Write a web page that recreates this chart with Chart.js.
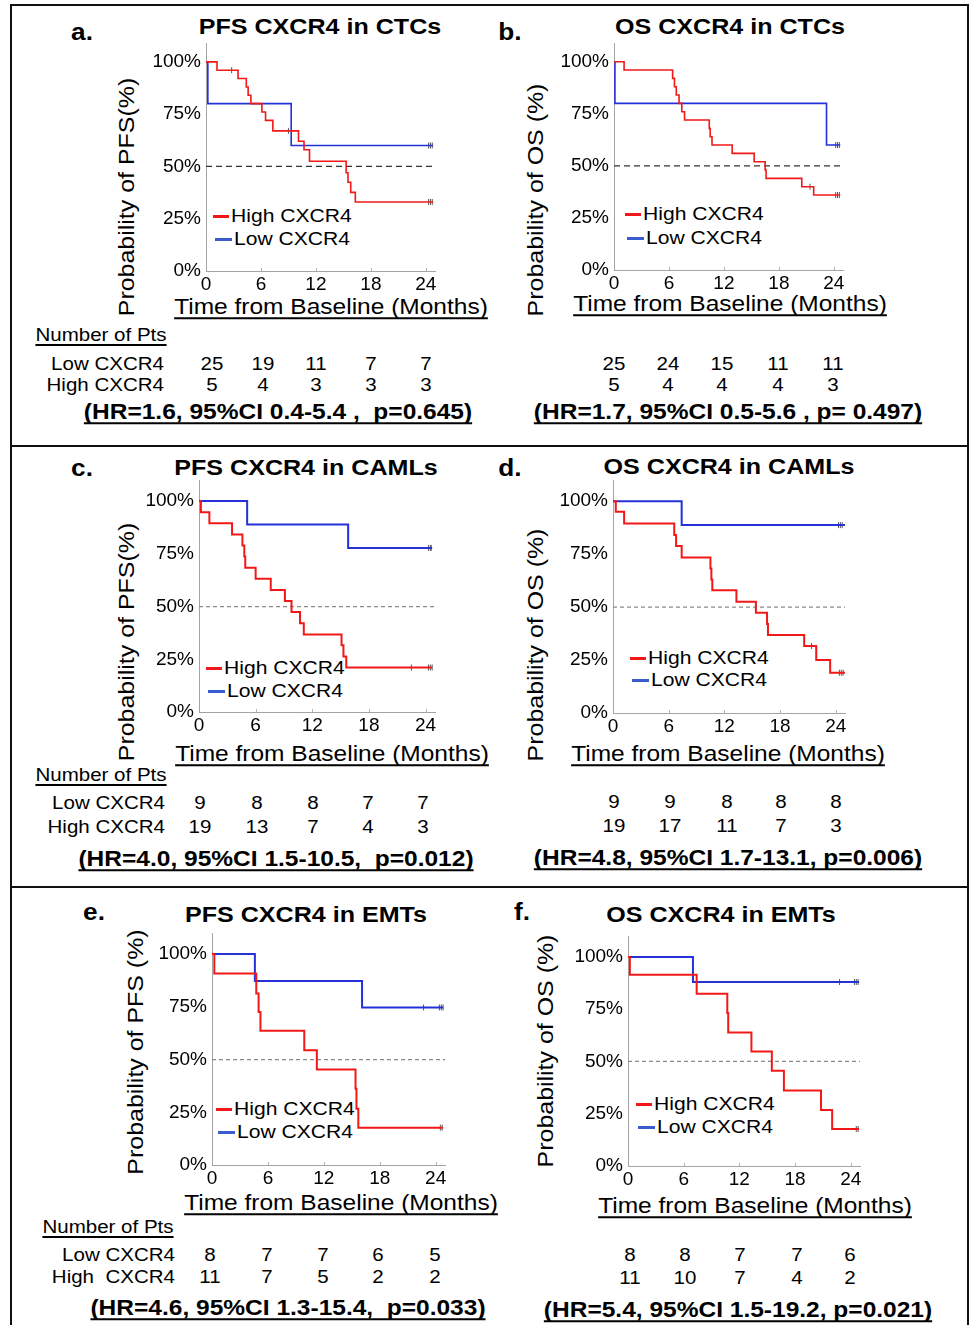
<!DOCTYPE html>
<html>
<head>
<meta charset="utf-8">
<script src="https://cdn.jsdelivr.net/npm/chart.js@4.4.1/dist/chart.umd.min.js"></script>
<style>
  html, body { margin: 0; padding: 0; background: #fff; }
  body { width: 969px; height: 1325px; position: relative; overflow: hidden;
         font-family: "Liberation Sans", Arial, Helvetica, sans-serif; color: #000; }
  .frame { position: absolute; left: 10px; top: 4px; width: 959px; height: 1340px;
           border: 2px solid #111; box-sizing: border-box; }
  .sep { position: absolute; left: 10px; width: 959px; height: 2px; background: #111; }
  canvas { position: absolute; }
  .t { position: absolute; white-space: pre; line-height: 1; }
  .c { transform: translate(-50%, -50%) scaleX(1.14); }
  .r { transform-origin: right center; transform: translate(-100%, -50%) scaleX(1.14); }
  .l { transform-origin: left center; transform: translate(0, -50%) scaleX(1.14); }
  .rot { transform: translate(-50%, -50%) rotate(-90deg) scaleX(1.16); }
  .title { font-size: 22px; font-weight: bold; }
  .letter { font-size: 23px; font-weight: bold; }
  .axlab { font-size: 21.5px; }
  .ul { text-decoration: underline; text-decoration-thickness: 1.5px; text-underline-offset: 3px;
        text-decoration-skip-ink: none; }
  .tab { font-size: 18px; }
  .hr { font-size: 21.5px; font-weight: bold; text-decoration: underline;
        text-decoration-thickness: 2px; text-underline-offset: 3px; text-decoration-skip-ink: none; }
  .leg { font-size: 18.5px; }
  .legline { position: absolute; height: 3px; }
</style>
</head>
<body>
<div class="frame"></div>
<div class="sep" style="top:445px"></div>
<div class="sep" style="top:886px"></div>

<script>
// ---- shared ticks / labels
const xTicks = [0, 6, 12, 18, 24];
const yTicks = [0, 25, 50, 75, 100];
const seriesNames = ['High CXCR4', 'Low CXCR4'];
const rowNames = ['Low CXCR4', 'High CXCR4'];
const median = [50, 50];

// ---- a. PFS CXCR4 in CTCs
const aHighT = [0, 1.2, 3.5, 4.4, 4.6, 4.9, 6.1, 6.5, 7.3, 10.1, 10.7, 11.3, 15.3, 15.5, 15.8, 16.3, 24.8];
const aHighS = [100, 96, 92, 88, 84, 80, 76, 72, 67, 62, 58, 52.5, 47, 42.4, 37.6, 33, 33];
const aHighCens = [2.8, 9.0, 24.3, 24.5, 24.7];
const aLowT = [0, 0.2, 9.3, 24.8];
const aLowS = [100, 80, 60, 60];
const aLowCens = [24.3, 24.5, 24.7];
const aRiskLow = [25, 19, 11, 7, 7];
const aRiskHigh = [5, 4, 3, 3, 3];

// ---- b. OS CXCR4 in CTCs
const bHighT = [0, 1.1, 6.4, 6.6, 6.8, 7.1, 7.4, 7.7, 10.4, 10.5, 10.7, 12.9, 15.3, 16.5, 16.6, 20.5, 21.8, 24.7];
const bHighS = [100, 96, 92, 88, 84, 80, 76, 72, 68, 64, 60, 56, 52, 48, 44, 40, 36, 36];
const bHighCens = [21.4, 24.2, 24.4, 24.6];
const bLowT = [0, 0.1, 23.2, 24.7];
const bLowS = [100, 80, 60, 60];
const bLowCens = [24.2, 24.4, 24.6];
const bRiskLow = [25, 24, 15, 11, 11];
const bRiskHigh = [5, 4, 4, 4, 3];

// ---- c. PFS CXCR4 in CAMLs
const cHighT = [0, 0.2, 1.1, 3.5, 4.6, 4.8, 4.9, 6.0, 7.6, 9.1, 9.8, 10.7, 11.1, 15.1, 15.3, 15.6, 24.7];
const cHighS = [100, 94.7, 89.5, 84.2, 78.9, 73.7, 68.4, 63.2, 57.9, 52.6, 47.4, 42.1, 36.8, 31.6, 26.3, 21.1, 21.1];
const cHighCens = [22.5, 24.3, 24.5, 24.7];
const cLowT = [0, 5.1, 15.8, 24.7];
const cLowS = [100, 88.9, 77.8, 77.8];
const cLowCens = [24.3, 24.5, 24.6];
const cRiskLow = [9, 8, 8, 7, 7];
const cRiskHigh = [19, 13, 7, 4, 3];

// ---- d. OS CXCR4 in CAMLs
const dHighT = [0, 0.3, 1.2, 6.6, 6.8, 7.4, 10.5, 10.6, 10.7, 13.3, 15.4, 16.6, 16.7, 20.6, 21.9, 23.4, 25];
const dHighS = [100, 95, 89.5, 84, 78.8, 73.4, 68.2, 63, 58, 52.5, 47.3, 42, 36.8, 31.6, 25, 19, 19];
const dHighCens = [21.4, 24.4, 24.6, 24.8];
const dLowT = [0, 7.4, 25];
const dLowS = [100, 88.7, 88.7];
const dLowCens = [24.3, 24.5, 24.7];
const dRiskLow = [9, 9, 8, 8, 8];
const dRiskHigh = [19, 17, 11, 7, 3];

// ---- e. PFS CXCR4 in EMTs
const eHighT = [0, 0.25, 4.75, 5.0, 5.2, 9.9, 11.25, 15.4, 15.5, 15.7, 24.8];
const eHighS = [100, 90.8, 81.3, 72.6, 63.6, 54.4, 45.3, 36.2, 26.7, 17.7, 17.7];
const eHighCens = [24.5, 24.7];
const eLowT = [0, 4.6, 16.1, 24.8];
const eLowS = [100, 87.3, 74.7, 74.7];
const eLowCens = [22.7, 24.4, 24.6, 24.8];
const eRiskLow = [8, 7, 7, 6, 5];
const eRiskHigh = [11, 7, 5, 2, 2];

// ---- f. OS CXCR4 in EMTs
const fHighT = [0, 0.2, 7.4, 10.7, 10.8, 13.3, 15.5, 16.8, 20.8, 22.0, 24.9];
const fHighS = [100, 91.5, 82.4, 73.2, 63.9, 54.8, 45.5, 36.1, 26.8, 17.7, 17.7];
const fHighCens = [24.6, 24.8];
const fLowT = [0, 7.0, 24.9];
const fLowS = [100, 88, 88];
const fLowCens = [22.8, 24.4, 24.6, 24.8];
const fRiskLow = [8, 8, 7, 7, 6];
const fRiskHigh = [11, 10, 7, 4, 2];

const RED = '#f21818';
const BLUE = '#2430d8';
const LEG_BLUE = '#3a5ccf';
const AXIS = '#a4a4a4';

// page layout for each panel (pixel positions of the plot area and texts)
const panels = [
  { letter: 'a.', lx: 82, ly: 32, title: 'PFS CXCR4 in CTCs', tx: 320, ty: 27,
    yLab: 'Probability of PFS(%)', ylx: 128, yly: 197, xlx: 331, xly: 308,
    left: 206, top: 43, w: 229, h: 228, yMax: 109, lw: 1.6, dash: [6, 4], dashColor: '#333',
    high: [aHighT, aHighS, aHighCens], low: [aLowT, aLowS, aLowCens],
    legX: 213, legY: 216, legGap: 23,
    table: { head: [101, 335], labRight: 164, rows: [364, 385], cols: [212, 263, 316, 371, 426] },
    risk: [aRiskLow, aRiskHigh], rowNames: rowNames,
    hr: '(HR=1.6, 95%CI 0.4-5.4 ,  p=0.645)', hx: 278, hy: 413 },
  { letter: 'b.', lx: 510, ly: 32, title: 'OS CXCR4 in CTCs', tx: 730, ty: 27,
    yLab: 'Probability of OS (%)', ylx: 537, yly: 200, xlx: 730, xly: 305,
    left: 614, top: 43, w: 229, h: 227, yMax: 109, lw: 1.6, dash: [6, 4], dashColor: '#333',
    high: [bHighT, bHighS, bHighCens], low: [bLowT, bLowS, bLowCens],
    legX: 625, legY: 214, legGap: 24,
    table: { head: null, rows: [364, 385], cols: [614, 668, 722, 778, 833] },
    risk: [bRiskLow, bRiskHigh],
    hr: '(HR=1.7, 95%CI 0.5-5.6 , p= 0.497)', hx: 728, hy: 413 },
  { letter: 'c.', lx: 82, ly: 468, title: 'PFS CXCR4 in CAMLs', tx: 306, ty: 468,
    yLab: 'Probability of PFS(%)', ylx: 128, yly: 642, xlx: 332, xly: 755,
    left: 199, top: 480, w: 236, h: 232, yMax: 110, lw: 2, dash: [4, 3], dashColor: '#8a8a8a',
    high: [cHighT, cHighS, cHighCens], low: [cLowT, cLowS, cLowCens],
    legX: 206, legY: 668, legGap: 23,
    table: { head: [101, 775], labRight: 165, rows: [803, 827], cols: [200, 257, 313, 368, 423] },
    risk: [cRiskLow, cRiskHigh], rowNames: rowNames,
    hr: '(HR=4.0, 95%CI 1.5-10.5,  p=0.012)', hx: 276, hy: 860 },
  { letter: 'd.', lx: 510, ly: 468, title: 'OS CXCR4 in CAMLs', tx: 729, ty: 467,
    yLab: 'Probability of OS (%)', ylx: 537, yly: 645, xlx: 728, xly: 755,
    left: 613, top: 480, w: 232, h: 233, yMax: 110, lw: 2, dash: [4, 3], dashColor: '#8a8a8a',
    high: [dHighT, dHighS, dHighCens], low: [dLowT, dLowS, dLowCens],
    legX: 630, legY: 658, legGap: 22,
    table: { head: null, rows: [802, 826], cols: [614, 670, 727, 781, 836] },
    risk: [dRiskLow, dRiskHigh],
    hr: '(HR=4.8, 95%CI 1.7-13.1, p=0.006)', hx: 728, hy: 859 },
  { letter: 'e.', lx: 94, ly: 912, title: 'PFS CXCR4 in EMTs', tx: 306, ty: 915,
    yLab: 'Probability of PFS (%)', ylx: 137, yly: 1052, xlx: 341, xly: 1204,
    left: 212, top: 933, w: 233, h: 232, yMax: 110, lw: 2, dash: [4, 3], dashColor: '#8a8a8a',
    high: [eHighT, eHighS, eHighCens], low: [eLowT, eLowS, eLowCens],
    legX: 216, legY: 1109, legGap: 23,
    table: { head: [108, 1227], labRight: 175, rows: [1255, 1277], cols: [210, 267, 323, 378, 435] },
    risk: [eRiskLow, eRiskHigh], rowNames: ['Low CXCR4', 'High  CXCR4'],
    hr: '(HR=4.6, 95%CI 1.3-15.4,  p=0.033)', hx: 288, hy: 1309 },
  { letter: 'f.', lx: 522, ly: 912, title: 'OS CXCR4 in EMTs', tx: 721, ty: 915,
    yLab: 'Probability of OS (%)', ylx: 547, yly: 1051, xlx: 755, xly: 1207,
    left: 628, top: 936, w: 232, h: 230, yMax: 110, lw: 2, dash: [4, 3], dashColor: '#8a8a8a',
    high: [fHighT, fHighS, fHighCens], low: [fLowT, fLowS, fLowCens],
    legX: 636, legY: 1104, legGap: 23,
    table: { head: null, rows: [1255, 1278], cols: [630, 685, 740, 797, 850] },
    risk: [fRiskLow, fRiskHigh],
    hr: '(HR=5.4, 95%CI 1.5-19.2, p=0.021)', hx: 738, hy: 1311 }
];

function text(str, x, y, cls) {
  const d = document.createElement('div');
  d.className = 't ' + cls;
  d.textContent = str;
  d.style.left = x + 'px';
  d.style.top = y + 'px';
  document.body.appendChild(d);
  return d;
}

function pts(T, S) { return T.map((t, i) => ({ x: t, y: S[i] })); }

// survival value of a step curve at time t (for censor marks)
function survAt(T, S, t) {
  let v = S[0];
  for (let i = 0; i < T.length; i++) if (T[i] <= t) v = S[i];
  return v;
}

Chart.defaults.font.family = '"Liberation Sans", Arial, sans-serif';
Chart.defaults.font.size = 19;
Chart.defaults.color = '#000';

// small inward tick marks on the time axis
const innerTicks = {
  id: 'innerTicks',
  afterDraw(chart) {
    const s = chart.scales.x, ctx = chart.ctx;
    ctx.save();
    ctx.strokeStyle = '#b4b4b4';
    ctx.lineWidth = 1;
    s.ticks.forEach(t => {
      if (t.value === 0) return;
      const px = Math.round(s.getPixelForValue(t.value)) + 0.5;
      ctx.beginPath();
      ctx.moveTo(px, s.top);
      ctx.lineTo(px, s.top - 3);
      ctx.stroke();
    });
    ctx.restore();
  }
};

const L = 64, T = 22, R = 14, B = 30;

panels.forEach(p => {
  // texts
  text(p.letter, p.lx, p.ly, 'c letter');
  text(p.title, p.tx, p.ty, 'c title');
  text(p.yLab, p.ylx, p.yly, 'rot axlab');
  text('Time from Baseline (Months)', p.xlx, p.xly, 'c axlab ul');
  if (p.table.head) {
    text('Number of Pts', p.table.head[0], p.table.head[1], 'c tab ul');
    p.rowNames.forEach((n, i) => text(n, p.table.labRight, p.table.rows[i], 'r tab'));
  }
  p.risk.forEach((row, i) => row.forEach((v, j) =>
    text(String(v), p.table.cols[j], p.table.rows[i], 'c tab')));
  text(p.hr, p.hx, p.hy, 'c hr');

  // legend
  [RED, LEG_BLUE].forEach((col, i) => {
    const y = p.legY + i * p.legGap;
    const ln = document.createElement('div');
    ln.className = 'legline';
    ln.style.background = col;
    ln.style.left = (p.legX + i * 2) + 'px';
    ln.style.top = (y - 1.5) + 'px';
    ln.style.width = (16 + i) + 'px';
    document.body.appendChild(ln);
    text(seriesNames[i], p.legX + 18 + i * 3, y, 'l leg');
  });

  // chart
  const cv = document.createElement('canvas');
  cv.width = p.w + L + R;
  cv.height = p.h + T + B;
  cv.style.left = (p.left - L) + 'px';
  cv.style.top = (p.top - T) + 'px';
  document.body.appendChild(cv);

  const xMax = 25;
  const [hT, hS, hC] = p.high;
  const [lT, lS, lC] = p.low;

  new Chart(cv, {
    type: 'line',
    data: {
      datasets: [
        { label: seriesNames[0], data: pts(hT, hS), stepped: true, borderColor: RED,
          borderWidth: p.lw, pointRadius: 0, fill: false },
        { label: seriesNames[1], data: pts(lT, lS), stepped: true, borderColor: BLUE,
          borderWidth: p.lw, pointRadius: 0, fill: false },
        { type: 'scatter', data: hC.map(t => ({ x: t, y: survAt(hT, hS, t) })), showLine: false,
          pointStyle: 'line', rotation: 90, pointRadius: 3, borderColor: '#555', borderWidth: 1 },
        { type: 'scatter', data: lC.map(t => ({ x: t, y: survAt(lT, lS, t) })), showLine: false,
          pointStyle: 'line', rotation: 90, pointRadius: 3, borderColor: '#555', borderWidth: 1 },
        { data: [{ x: 0, y: median[0] }, { x: xMax, y: median[1] }], borderColor: p.dashColor,
          borderDash: p.dash, borderWidth: 1.3, pointRadius: 0 }
      ]
    },
    options: {
      responsive: false,
      animation: false,
      events: [],
      layout: { padding: { top: T, right: R, left: 0, bottom: 0 } },
      plugins: { legend: { display: false }, tooltip: { enabled: false } },
      scales: {
        x: {
          type: 'linear', min: 0, max: xMax,
          afterBuildTicks: s => { s.ticks = xTicks.map(v => ({ value: v })); },
          afterFit: s => { s.height = B; },
          grid: { display: false, drawTicks: false },
          border: { display: true, color: AXIS, width: 1 },
          ticks: { padding: 2, maxRotation: 0, autoSkip: false }
        },
        y: {
          min: 0, max: p.yMax,
          afterBuildTicks: s => { s.ticks = yTicks.map(v => ({ value: v })); },
          afterFit: s => { s.width = L; },
          grid: { display: false, drawTicks: false },
          border: { display: true, color: AXIS, width: 1 },
          ticks: { padding: 5, callback: v => v + '%' }
        }
      }
    },
    plugins: [innerTicks]
  });
});
</script>
</body>
</html>
